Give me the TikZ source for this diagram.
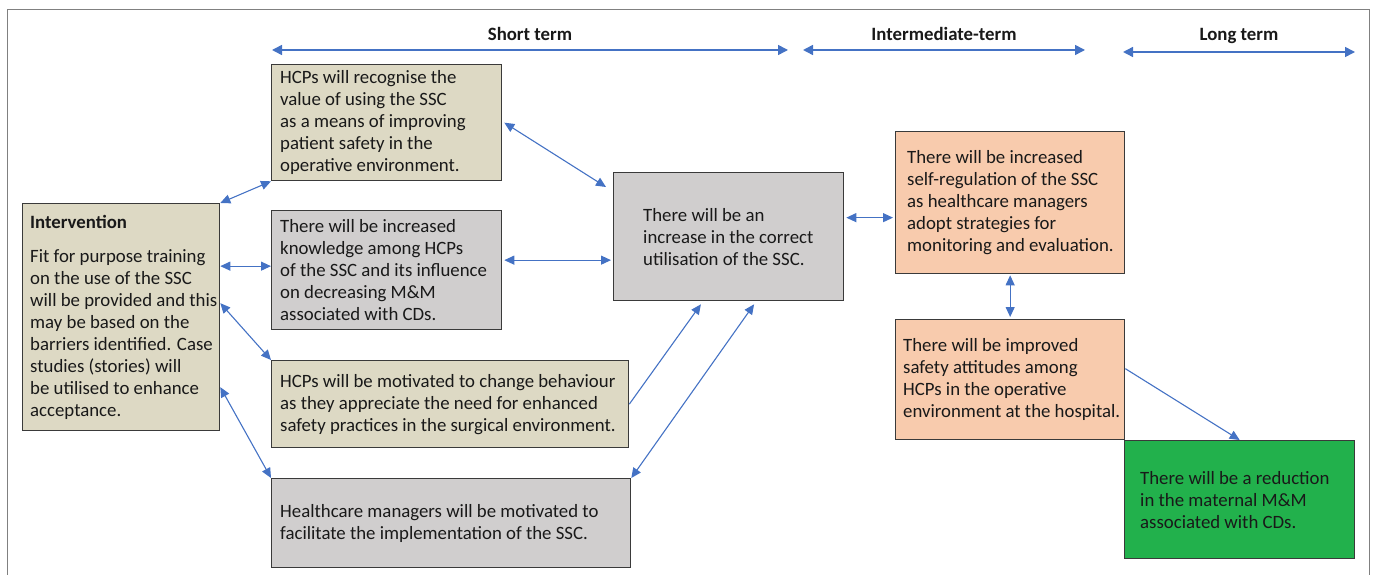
\documentclass[tikz,border=0pt]{standalone}
\usepackage{fontspec}
\setmainfont{Carlito}
\usetikzlibrary{arrows.meta,calc}
\definecolor{tanb}{HTML}{DDD9C4}
\definecolor{grayb}{HTML}{D0CECE}
\definecolor{orngb}{HTML}{F8CBAD}
\definecolor{grnb}{HTML}{22B14C}
\definecolor{arrc}{HTML}{4472C4}
\definecolor{edgec}{HTML}{3A3A3A}
\definecolor{framec}{HTML}{808080}
\begin{document}
\begin{tikzpicture}[x=1bp,y=-1bp,
  box/.style={draw=edgec, line width=1.3bp, rectangle, inner sep=0pt, anchor=north west},
  txt/.style={align=left, inner sep=0pt, anchor=west, font=\fontsize{18.8bp}{22bp}\selectfont, text=black!90},
  hdr/.style={font=\fontsize{18.8bp}{22bp}\selectfont\bfseries, anchor=base, inner sep=0pt, text=black!90},
  link/.style={draw=arrc, line width=1.1bp, {Triangle[length=10bp,width=9bp]}-{Triangle[length=10bp,width=9bp]}},
  onelink/.style={draw=arrc, line width=1.1bp, -{Triangle[length=10bp,width=9bp]}},
  span/.style={draw=arrc, line width=1.5bp, {Triangle[length=10bp,width=10bp]}-{Triangle[length=10bp,width=10bp]}},
]
\useasboundingbox (0,0) rectangle (1375,575);
\clip (0,0) rectangle (1375,575);
\draw[framec, line width=1bp] (7,10) rectangle (1369,640);

% headers
\node[hdr] (hs) at (530,41) {Short term};
\node[hdr] (hi) at (944,41) {Intermediate-term};
\node[hdr] (hl) at (1239,41) {Long term};
\coordinate (s1) at (272,50); \coordinate (s2) at (788,50);
\coordinate (i1) at (803,50); \coordinate (i2) at (1085,50);
\coordinate (l1) at (1123,52); \coordinate (l2) at (1355,52);
\draw[span] (s1) -- (s2);
\draw[span] (i1) -- (i2);
\draw[span] (l1) -- (l2);

% boxes
\node[box, fill=tanb, minimum width=230bp, minimum height=116bp] (b1) at (271,64) {};
\node[txt] (b1t) at ([xshift=9bp]b1.west) {HCPs will recognise the\\value of using the SSC\\as a means of improving\\patient safety in the\\operative environment.};

\node[box, fill=tanb, minimum width=197bp, minimum height=227bp] (int) at (22,203) {};
\node[txt] (intt) at ([xshift=8bp]int.west) {\textbf{Intervention}\\[12bp]Fit for purpose training\\on the use of the SSC\\will be provided and this\\may be based on the\\barriers identified. Case\\studies (stories) will\\be utilised to enhance\\acceptance.};

\node[box, fill=grayb, minimum width=230bp, minimum height=119bp] (b2) at (271,210) {};
\node[txt] (b2t) at ([xshift=9bp]b2.west) {There will be increased\\knowledge among HCPs\\of the SSC and its influence\\on decreasing M\&M\\associated with CDs.};

\node[box, fill=tanb, minimum width=357bp, minimum height=87bp] (b3) at (271,360) {};
\node[txt] (b3t) at ([xshift=9bp]b3.west) {HCPs will be motivated to change behaviour\\as they appreciate the need for enhanced\\safety practices in the surgical environment.};

\node[box, fill=grayb, minimum width=359bp, minimum height=89bp] (b4) at (271,478) {};
\node[txt] (b4t) at ([xshift=9bp]b4.west) {Healthcare managers will be motivated to\\facilitate the implementation of the SSC.};

\node[box, fill=grayb, minimum width=230bp, minimum height=128bp] (c) at (613,172) {};
\node[txt] (ct) at ([xshift=30bp]c.west) {There will be an\\increase in the correct\\utilisation of the SSC.};

\node[box, fill=orngb, minimum width=229bp, minimum height=142bp] (o1) at (895,131) {};
\node[txt] (o1t) at ([xshift=12bp]o1.west) {There will be increased\\self-regulation of the SSC\\as healthcare managers\\adopt strategies for\\monitoring and evaluation.};

\node[box, fill=orngb, minimum width=229bp, minimum height=120bp] (o2) at (895,319) {};
\node[txt] (o2t) at ([xshift=8bp]o2.west) {There will be improved\\safety attitudes among\\HCPs in the operative\\environment at the hospital.};

\node[box, fill=grnb, minimum width=230bp, minimum height=118bp] (g) at (1124,440) {};
\node[txt] (gt) at ([xshift=16bp]g.west) {There will be a reduction\\in the maternal M\&M\\associated with CDs.};

% connectors
\draw[link] (int.north east) -- (b1.south west);
\draw[link] ([yshift=4bp]int.east |- b2.west) -- ([yshift=4bp]b2.west);
\draw[link] ([yshift=14bp]int.east) -- (b3.north west);
\draw[link] ([yshift=-70bp]int.east) -- (b4.north west);
\draw[link] ([xshift=2bp]b1.east) -- ([xshift=-7bp,yshift=-15bp]c.north west);
\draw[link] ([xshift=2bp,yshift=10bp]b2.east) -- ([xshift=-2bp,yshift=10bp]b2.east -| c.west);
\draw[onelink] (b3.east) -- ([yshift=-3bp]$(c.south west)!0.38!(c.south east)$);
\draw[link] (b4.north east) -- ([yshift=-3bp]$(c.south west)!0.61!(c.south east)$);
\draw[link] ([xshift=2bp,yshift=-15bp]o1.west -| c.east) -- ([xshift=-2bp,yshift=-15bp]o1.west);
\draw[link] ([yshift=-1bp]o1.south) -- ([yshift=2bp]o2.north);
\draw[onelink] ([yshift=11bp]o2.east) -- (g.north);
\end{tikzpicture}
\end{document}
